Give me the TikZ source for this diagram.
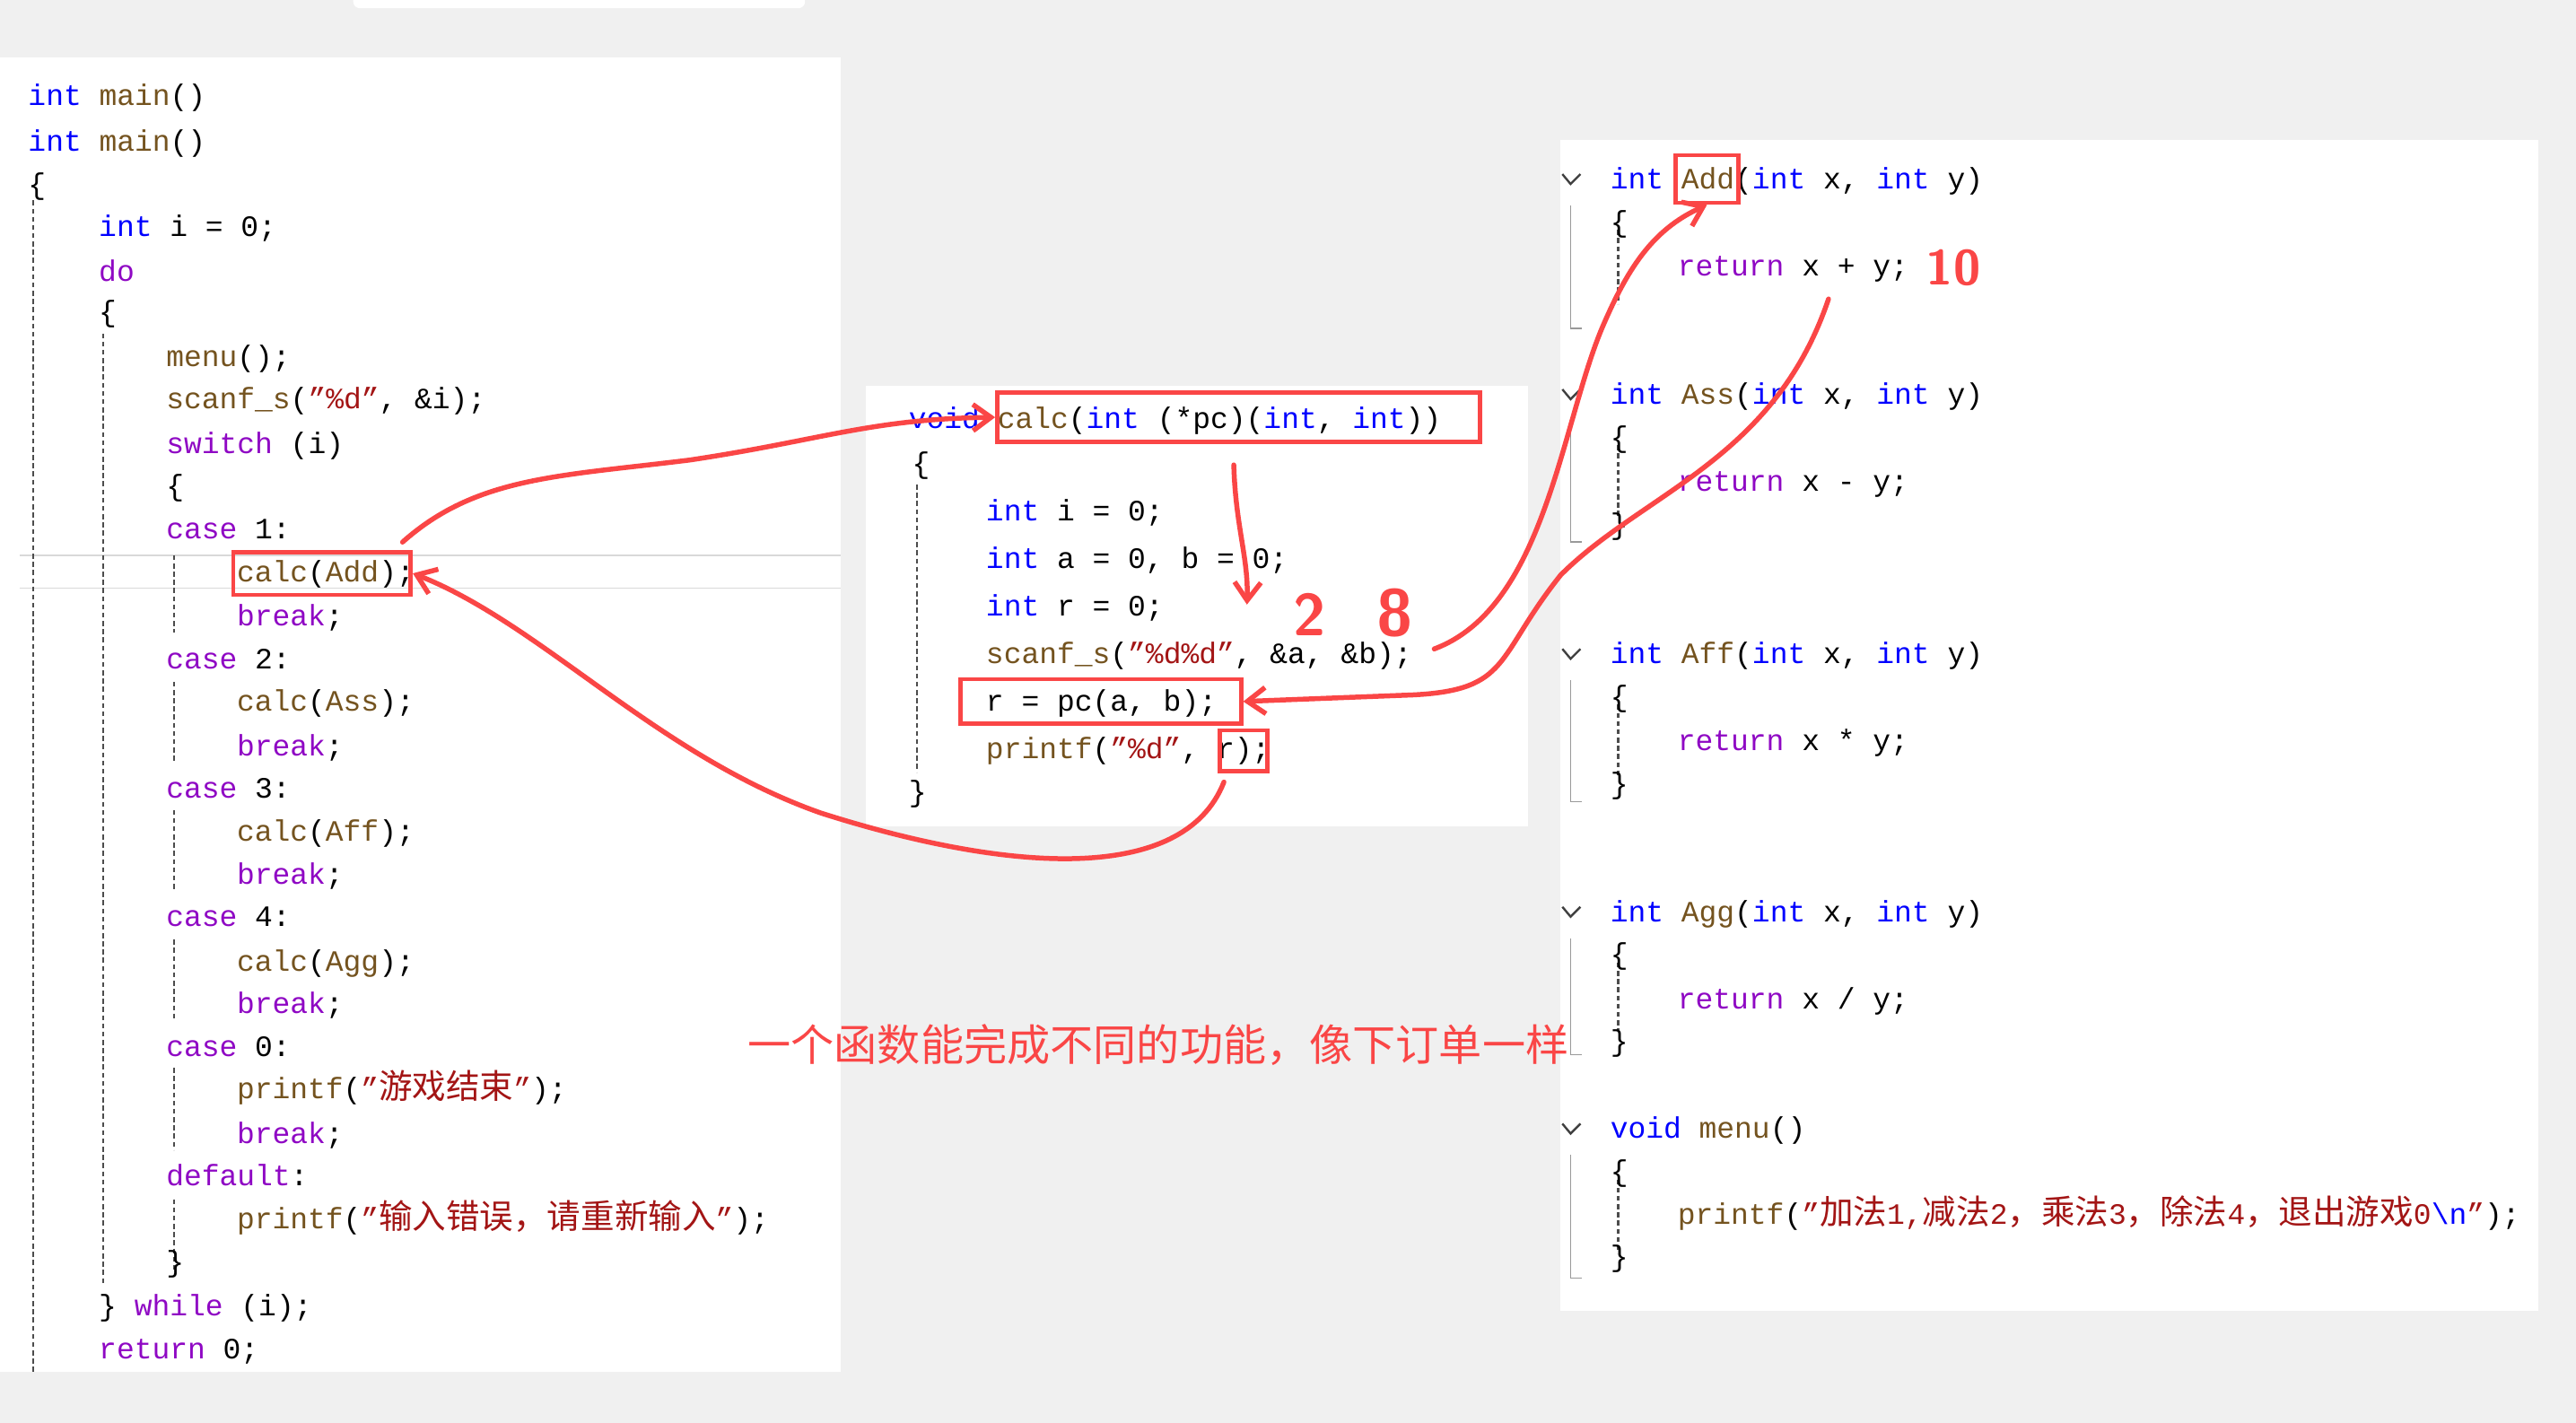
\documentclass[tikz,border=0pt]{standalone}
\usepackage{fontspec}
\setmainfont{Liberation Mono}
\newfontfamily\cjk{Noto Sans CJK SC}
\usetikzlibrary{arrows.meta}
\definecolor{kw}{RGB}{0,0,255}
\definecolor{pu}{RGB}{143,8,196}
\definecolor{st}{RGB}{163,21,21}
\definecolor{fn}{RGB}{116,83,31}
\definecolor{rd}{RGB}{250,70,70}
\definecolor{bg}{RGB}{240,240,240}
\newcommand{\Kw}[1]{\textcolor{kw}{#1}}
\newcommand{\Pk}[1]{\textcolor{pu}{#1}}
\newcommand{\Sx}[1]{\textcolor{st}{#1}}
\newcommand{\Fn}[1]{\textcolor{fn}{#1}}
\newcommand{\Cj}[1]{{\cjk\fontsize{20.5}{22}\selectfont #1}}
\begin{document}
\begin{tikzpicture}[x=1pt,y=-1pt,
  code/.style={anchor=base west,inner sep=0pt,font=\fontsize{18}{20}\selectfont},
  guide/.style={densely dashed,line width=1.2pt,black!70},
  box/.style={draw=rd,line width=2.5pt},
  hand/.style={draw=rd,line width=3pt,line cap=round,-{Straight Barb[length=11pt,width=16pt]}}]
\useasboundingbox (0,0) rectangle (1568,866);
\fill[bg] (0,0) rectangle (1568,866);
\fill[white,rounded corners=4pt] (215,-10) rectangle (490,5);
\fill[white] (0,35) rectangle (512,835);
\fill[white] (527,235) rectangle (930,503);
\fill[white] (950,85) rectangle (1545,798);
\draw[black!15,line width=1pt] (12,338) -- (512,338) (12,358) -- (512,358);
\draw[guide] (20,122) -- (20,835);
\draw[guide] (63,203) -- (63,782);
\foreach \a/\b in {338/385,415/463,493/541,572/620,650/700,730/775}
  \draw[guide] (106,\a) -- (106,\b);
\node[code] (l0) at (17,64) {\Kw{int} \Fn{main}()};
\node[code] (l1) at (17,92) {\Kw{int} \Fn{main}()};
\node[code] (l2) at (17,118) {\{};
\node[code] (l3) at (60,144) {\Kw{int} i = 0;};
\node[code] (l4) at (60,171) {\Pk{do}};
\node[code] (l5) at (60,196) {\{};
\node[code] (l6) at (101,223) {\Fn{menu}();};
\node[code] (l7) at (101,249) {\Fn{scanf\_s}(\Sx{"\%d"}, \&i);};
\node[code] (l8) at (101,276) {\Pk{switch} (i)};
\node[code] (l9) at (101,302) {\{};
\node[code] (l10) at (101,328) {\Pk{case} 1:};
\node[code] (l11) at (144,354) {\Fn{calc}(\Fn{Add});};
\node[code] (l12) at (144,381) {\Pk{break};};
\node[code] (l13) at (101,407) {\Pk{case} 2:};
\node[code] (l14) at (144,433) {\Fn{calc}(\Fn{Ass});};
\node[code] (l15) at (144,460) {\Pk{break};};
\node[code] (l16) at (101,486) {\Pk{case} 3:};
\node[code] (l17) at (144,512) {\Fn{calc}(\Fn{Aff});};
\node[code] (l18) at (144,538) {\Pk{break};};
\node[code] (l19) at (101,564) {\Pk{case} 4:};
\node[code] (l20) at (144,591) {\Fn{calc}(\Fn{Agg});};
\node[code] (l21) at (144,617) {\Pk{break};};
\node[code] (l22) at (101,643) {\Pk{case} 0:};
\node[code] (l23) at (144,669) {\Fn{printf}(\Sx{"\Cj{游戏结束}"});};
\node[code] (l24) at (144,696) {\Pk{break};};
\node[code] (l25) at (101,722) {\Pk{default}:};
\node[code] (l26) at (144,748) {\Fn{printf}(\Sx{"\Cj{输入错误，请重新输入}"});};
\node[code] (l27) at (101,774) {\}};
\node[code] (l28) at (60,801) {\} \Pk{while} (i);};
\node[code] (l29) at (60,827) {\Pk{return} 0;};
\draw[guide] (558,295) -- (558,470);
\node[code] (m0) at (553,261) {\Kw{void} \Fn{calc}(\Kw{int} (*pc)(\Kw{int}, \Kw{int}))};
\node[code] (m1) at (555,288) {\{};
\node[code] (m2) at (600,317) {\Kw{int} i = 0;};
\node[code] (m3) at (600,346) {\Kw{int} a = 0, b = 0;};
\node[code] (m4) at (600,375) {\Kw{int} r = 0;};
\node[code] (m5) at (600,404) {\Fn{scanf\_s}(\Sx{"\%d\%d"}, \&a, \&b);};
\node[code] (m6) at (600,433) {r = pc(a, b);};
\node[code] (m7) at (600,462) {\Fn{printf}(\Sx{"\%d"}, r);};
\node[code] (m8) at (553,488) {\}};
\foreach \y in {109,240,398,555,687}
  \draw[line width=1.3pt,black!75] (951,\y-3) -- (956,\y+3) -- (962,\y-3);
\foreach \a/\b in {125/200,256/330,414/488,571/642,703/778}{
  \draw[line width=1pt,black!40] (956,\a) -- (956,\b) -- (963,\b);
  \draw[guide] (985,\a+15) -- (985,\b-15);}
\node[code] (r0) at (980,115) {\Kw{int} \Fn{Add}(\Kw{int} x, \Kw{int} y)};
\node[code] (r1) at (980,141) {\{};
\node[code] (r2) at (1021,168) {\Pk{return} x + y;};
\node[code] (r3) at (980,246) {\Kw{int} \Fn{Ass}(\Kw{int} x, \Kw{int} y)};
\node[code] (r4) at (980,272) {\{};
\node[code] (r5) at (1021,299) {\Pk{return} x - y;};
\node[code] (r6) at (980,325) {\}};
\node[code] (r7) at (980,404) {\Kw{int} \Fn{Aff}(\Kw{int} x, \Kw{int} y)};
\node[code] (r8) at (980,430) {\{};
\node[code] (r9) at (1021,457) {\Pk{return} x * y;};
\node[code] (r10) at (980,483) {\}};
\node[code] (r11) at (980,561) {\Kw{int} \Fn{Agg}(\Kw{int} x, \Kw{int} y)};
\node[code] (r12) at (980,587) {\{};
\node[code] (r13) at (1021,614) {\Pk{return} x / y;};
\node[code] (r14) at (980,640) {\}};
\node[code] (r15) at (980,693) {\Kw{void} \Fn{menu}()};
\node[code] (r16) at (980,719) {\{};
\node[code] (r17) at (1021,745) {\Fn{printf}(\Sx{"\Cj{加法}1,\Cj{减法}2\Cj{，乘法}3\Cj{，除法}4\Cj{，退出游戏}0\textcolor{kw}{\textbackslash n}"});};
\node[code] (r18) at (980,771) {\}};
\node[box,minimum width=108pt,minimum height=26pt,inner sep=0pt] (bAdd) at (196,349) {};
\node[box,minimum width=294pt,minimum height=30pt,inner sep=0pt] (bCalc) at (754,254) {};
\node[box,minimum width=171pt,minimum height=27pt,inner sep=0pt] (bPc) at (670,427) {};
\node[box,minimum width=29pt,minimum height=25pt,inner sep=0pt] (bR) at (757,457) {};
\node[box,minimum width=38pt,minimum height=29pt,inner sep=0pt] (bF) at (1039,109) {};
\node[text=rd,font=\cjk\fontsize{26.3}{28}\selectfont,anchor=base west,inner sep=0pt] (note) at (455,646) {一个函数能完成不同的功能，像下订单一样};
\node[text=rd,font=\sffamily\bfseries\fontsize{36}{40}\selectfont,inner sep=0pt] (n2) at (797,374) {2};
\node[text=rd,font=\sffamily\bfseries\fontsize{40}{44}\selectfont,inner sep=0pt] (n8) at (849,373) {8};
\node[text=rd,font=\sffamily\bfseries\fontsize{30}{34}\selectfont,inner sep=0pt] (n10) at (1189,163) {10};
\coordinate (a1s) at (245,330);
\coordinate (a2s) at (745,476);
\coordinate (a3s) at (751,283);
\coordinate (a3e) at (759,368);
\coordinate (a4s) at (873,395);
\coordinate (a5s) at (1113,182);
\draw[hand] (a1s) .. controls (290,290) and (340,290) .. (420,280) .. controls (500,268) and (530,255) .. (bCalc.west);
\draw[hand] (a2s) .. controls (720,540) and (610,530) .. (500,495) .. controls (400,460) and (330,380) .. (bAdd.east);
\draw[hand] (a3s) .. controls (752,320) and (760,340) .. (a3e);
\draw[hand] (a4s) .. controls (940,370) and (950,260) .. (975,200) .. controls (990,165) and (1005,140) .. (bF.south);
\draw[hand] (a5s) .. controls (1080,280) and (1000,300) .. (950,350) .. controls (910,400) and (920,420) .. (860,423) -- (bPc.east);
\end{tikzpicture}
\end{document}
